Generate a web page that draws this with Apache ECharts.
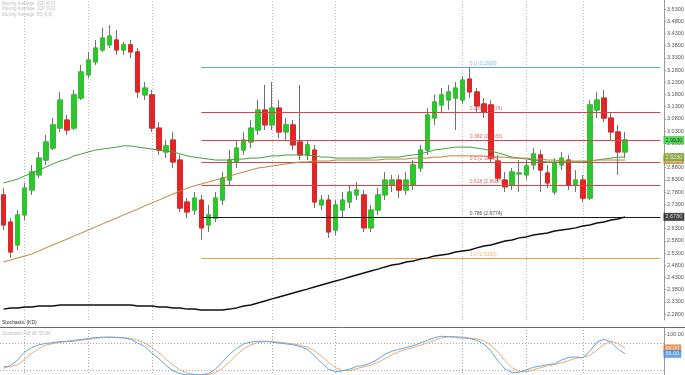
<!DOCTYPE html>
<html><head><meta charset="utf-8">
<script src="https://cdn.jsdelivr.net/npm/echarts@6/dist/echarts.min.js"></script>
<style>html,body{margin:0;padding:0;background:#fff}#c{width:685px;height:375px}</style>
</head><body><div id="c"></div>
<script>
// ---------- data ----------
const categories = Array.from({length: 94}, (_, i) => 'D' + (i + 1));
const opens  = [2.768,2.657,2.563,2.686,2.788,2.850,2.911,2.960,3.042,3.075,3.042,3.165,3.260,3.313,3.362,3.383,3.403,3.362,3.383,3.354,3.178,3.178,3.042,2.944,2.993,2.911,2.739,2.706,2.747,2.645,2.673,2.747,2.829,2.903,2.952,2.985,3.034,3.116,3.055,3.124,3.026,3.055,2.985,2.932,2.952,2.727,2.747,2.624,2.706,2.739,2.768,2.768,2.633,2.706,2.768,2.809,2.829,2.788,2.809,2.878,2.952,3.083,3.137,3.157,3.165,3.157,3.243,3.190,3.141,3.137,2.907,2.829,2.809,2.854,2.850,2.891,2.932,2.858,2.780,2.891,2.911,2.809,2.829,2.755,3.116,3.165,3.083,3.026,2.944];
const closes = [2.645,2.534,2.686,2.796,2.862,2.919,2.985,3.055,3.157,3.034,3.178,3.272,3.321,3.370,3.411,3.419,3.362,3.383,3.354,3.190,3.206,3.042,2.952,2.969,2.903,2.714,2.698,2.755,2.633,2.686,2.755,2.837,2.911,2.960,2.993,3.042,3.116,3.055,3.124,3.026,3.055,2.973,2.932,2.973,2.739,2.747,2.616,2.727,2.747,2.780,2.788,2.633,2.706,2.768,2.829,2.829,2.788,2.829,2.891,2.952,3.096,3.149,3.178,3.190,3.206,3.239,3.190,3.133,3.108,2.919,2.837,2.801,2.862,2.858,2.887,2.936,2.870,2.817,2.899,2.919,2.809,2.829,2.755,3.137,3.157,3.083,3.026,2.944,2.993];
const lows   = [2.624,2.510,2.542,2.665,2.768,2.837,2.891,2.952,3.026,3.014,3.034,3.157,3.247,3.301,3.354,3.370,3.342,3.342,3.329,3.165,3.157,3.026,2.932,2.919,2.878,2.698,2.673,2.686,2.583,2.616,2.657,2.727,2.809,2.878,2.932,2.960,3.014,3.034,3.034,3.001,2.993,2.952,2.911,2.911,2.714,2.706,2.592,2.604,2.673,2.714,2.747,2.616,2.616,2.686,2.747,2.780,2.755,2.768,2.788,2.862,2.932,3.055,3.108,3.116,3.034,3.141,3.165,3.108,3.083,2.903,2.821,2.780,2.788,2.780,2.829,2.870,2.780,2.796,2.768,2.870,2.788,2.780,2.739,2.747,3.083,3.067,2.993,2.850,2.919];
const highs  = [2.796,2.673,2.706,2.817,2.891,2.944,3.014,3.083,3.190,3.096,3.198,3.301,3.354,3.403,3.452,3.464,3.444,3.395,3.403,3.370,3.231,3.198,3.067,2.993,3.026,2.932,2.755,2.780,2.768,2.727,2.780,2.862,2.952,2.993,3.026,3.075,3.157,3.219,3.231,3.157,3.083,3.075,3.219,2.993,2.973,2.768,2.768,2.747,2.780,2.805,2.821,2.788,2.727,2.796,2.862,2.850,2.850,2.862,2.911,2.973,3.124,3.178,3.206,3.219,3.231,3.255,3.292,3.206,3.165,3.157,2.932,2.862,2.878,2.911,2.911,2.960,2.952,2.891,2.919,2.944,2.932,2.870,2.850,3.157,3.190,3.198,3.108,3.055,3.026];
const ma50  = [2.817,2.825,2.833,2.846,2.858,2.870,2.882,2.895,2.907,2.915,2.928,2.936,2.944,2.952,2.956,2.960,2.964,2.969,2.969,2.964,2.960,2.956,2.952,2.948,2.944,2.936,2.928,2.923,2.919,2.915,2.911,2.911,2.911,2.915,2.915,2.919,2.919,2.923,2.928,2.928,2.932,2.932,2.932,2.932,2.928,2.923,2.923,2.919,2.919,2.919,2.919,2.919,2.919,2.923,2.923,2.923,2.923,2.928,2.932,2.936,2.944,2.952,2.956,2.960,2.964,2.964,2.964,2.960,2.956,2.948,2.940,2.932,2.923,2.919,2.915,2.911,2.907,2.903,2.903,2.903,2.903,2.903,2.903,2.907,2.911,2.915,2.919,2.923,2.923];
const ma100 = [2.493,2.501,2.510,2.518,2.526,2.538,2.551,2.563,2.575,2.587,2.600,2.612,2.624,2.637,2.649,2.661,2.673,2.686,2.698,2.710,2.723,2.735,2.747,2.760,2.772,2.784,2.796,2.805,2.813,2.821,2.829,2.837,2.846,2.854,2.862,2.870,2.878,2.882,2.887,2.891,2.895,2.899,2.903,2.903,2.907,2.907,2.907,2.911,2.911,2.911,2.911,2.911,2.911,2.911,2.915,2.915,2.915,2.915,2.919,2.919,2.919,2.923,2.923,2.928,2.928,2.928,2.928,2.928,2.928,2.923,2.923,2.923,2.919,2.919,2.919,2.915,2.915,2.911,2.911,2.907,2.907,2.907,2.907,2.907,2.911,2.911,2.911,2.911,2.911];
const ma200 = [2.300,2.305,2.305,2.309,2.309,2.313,2.313,2.313,2.317,2.317,2.317,2.317,2.317,2.317,2.317,2.317,2.317,2.317,2.317,2.313,2.313,2.313,2.309,2.309,2.305,2.305,2.300,2.300,2.296,2.296,2.296,2.296,2.300,2.305,2.313,2.317,2.325,2.333,2.342,2.350,2.358,2.366,2.374,2.382,2.391,2.399,2.407,2.415,2.423,2.432,2.440,2.448,2.456,2.464,2.473,2.481,2.485,2.493,2.497,2.505,2.510,2.518,2.522,2.526,2.534,2.538,2.542,2.551,2.559,2.563,2.571,2.579,2.583,2.592,2.596,2.604,2.608,2.612,2.620,2.624,2.628,2.633,2.641,2.645,2.653,2.657,2.665,2.669,2.678];
const stochK = [24,30,42,60,70,76,79,81,83,84,86,88,90,92,93,93,92,91,88,80,72,58,45,30,18,12,9,10,9,12,22,38,55,68,78,82,84,84,82,80,78,76,72,66,52,36,22,16,18,22,28,30,36,44,55,62,66,70,74,80,86,92,95,94,93,91,90,86,78,62,40,22,14,15,20,26,29,32,34,42,48,49,47,62,82,88,82,66,56];
const stochD = [28,27,32,44,57,68,75,79,81,83,84,86,88,90,92,93,93,92,90,86,80,70,58,44,31,20,13,10,9,10,14,24,38,54,67,76,81,83,83,82,80,78,75,71,63,51,37,25,19,19,23,27,31,37,45,54,61,66,70,75,80,86,91,94,94,93,91,89,85,75,60,41,25,17,16,20,25,29,32,36,41,46,48,53,64,77,84,79,68];
const priceTicks = [2.28,2.33,2.38,2.43,2.48,2.53,2.58,2.63,2.68,2.73,2.78,2.83,2.88,2.93,2.98,3.03,3.08,3.13,3.18,3.23,3.28,3.33,3.38,3.43,3.48,3.53];
const stochTicks = [100];
const fibRatios = ['0.0','0.236','0.382','0.5','0.618','0.786','1.0'];
const fibLevels = [3.2920,3.1074,2.9933,2.9010,2.8087,2.6774,2.5100];
const fibStartIdx = 28, fibEndIdx = 93, fibLabelIdx = 66;
const vGridIdx = [3,12,21,38,47,65,74,82];
const stochLevels = [80,20];

// ---------- styles ----------
const fibColors = ['#5aa8d6','#d9434a','#d9434a','#d9434a','#d9434a','#1a1a1a','#f0a040'];
const UP = '#2ec62e', DOWN = '#e02626', WICK = '#707070';

const chart = echarts.init(document.getElementById('c'), null, {renderer: 'canvas'});
const last = closes.length - 1;
const endIdx = categories.length - 1;

const wickData = opens.map((o, i) => [o, closes[i], lows[i], highs[i]]);
const bodyData = opens.map((o, i) => [o, closes[i], Math.min(o, closes[i]), Math.max(o, closes[i])]);

const axisLabelStyle = {fontSize: 5.5, color: '#555', fontFamily: 'Liberation Sans, Arial', margin: 3};
const tagLabel = (bg, fg) => ({show: true, position: 'right', distance: 3, fontSize: 5.5, fontFamily: 'Liberation Sans, Arial',
  color: fg, backgroundColor: bg, padding: [1, 2, 1, 2], formatter: p => p.value[1].toFixed(4)});

const option = {
  animation: false,
  backgroundColor: '#ffffff',
  grid: [
    {left: 0, right: 21, top: 0, height: 320, outerBoundsMode: 'none'},
    {left: 0, right: 21, top: 328, height: 51, outerBoundsMode: 'none'}
  ],
  xAxis: [
    {type: 'category', data: categories, gridIndex: 0, boundaryGap: true, axisLine: {show: false}, axisTick: {show: false}, axisLabel: {show: false}, splitLine: {show: false}},
    {type: 'category', data: categories, gridIndex: 1, boundaryGap: true, axisLine: {show: false}, axisTick: {show: false}, axisLabel: {show: false}, splitLine: {show: false}}
  ],
  yAxis: [
    {type: 'value', gridIndex: 0, position: 'right', min: 2.2554, max: 3.5669, scale: true,
     axisLine: {show: true, lineStyle: {color: '#9a9a9a', width: 1}},
     axisTick: {show: true, length: 2, lineStyle: {color: '#9a9a9a'}, customValues: priceTicks},
     axisLabel: Object.assign({customValues: priceTicks, formatter: v => v.toFixed(4)}, axisLabelStyle),
     splitLine: {show: false}},
    {type: 'value', gridIndex: 1, position: 'right', min: 0, max: 113.33,
     axisLine: {show: true, lineStyle: {color: '#9a9a9a', width: 1}},
     axisTick: {show: true, length: 2, lineStyle: {color: '#9a9a9a'}, customValues: stochTicks},
     axisLabel: Object.assign({customValues: stochTicks, formatter: v => v.toFixed(2)}, axisLabelStyle),
     splitLine: {show: false}}
  ],
  series: [
    {name: 'grid', type: 'line', data: [], z: 0, silent: true,
     markLine: {z: 0, silent: true, symbol: 'none', label: {show: false},
       lineStyle: {color: '#b8b8b8', type: [1, 2], width: 1},
       data: vGridIdx.map(i => ({xAxis: i}))}},
    {name: 'wicks', type: 'candlestick', xAxisIndex: 0, yAxisIndex: 0, barWidth: 5, z: 2, data: wickData,
     itemStyle: {color: WICK, color0: WICK, borderColor: WICK, borderColor0: WICK, borderWidth: 1}},
    {name: 'bodies', type: 'candlestick', xAxisIndex: 0, yAxisIndex: 0, barWidth: 5, z: 3, data: bodyData,
     itemStyle: {color: UP, color0: DOWN, borderColor: UP, borderColor0: DOWN, borderWidth: 1}},
    {name: 'MA50', type: 'line', data: ma50, showSymbol: false, z: 5, lineStyle: {color: '#3f9f3f', width: 1}},
    {name: 'MA100', type: 'line', data: ma100, showSymbol: false, z: 5, lineStyle: {color: '#c2813a', width: 1}},
    {name: 'MA200', type: 'line', data: ma200, showSymbol: false, z: 5, lineStyle: {color: '#111111', width: 1.5}},
    {name: 'fib', type: 'scatter', symbolSize: 0, z: 6, silent: true,
     data: fibLevels.map((v, k) => ({value: [fibLabelIdx, v], label: {color: fibColors[k]}})),
     label: {show: true, position: [0, -1], align: 'left', verticalAlign: 'bottom', fontSize: 5, fontFamily: 'Liberation Sans, Arial',
       formatter: p => fibRatios[p.dataIndex] + ' (' + fibLevels[p.dataIndex].toFixed(4) + ')'},
     markLine: {z: 4, silent: true, symbol: 'none', label: {show: false},
       data: fibLevels.map((v, k) => [{coord: [fibStartIdx, v], lineStyle: {color: fibColors[k], width: 1, type: 'solid'}},
                                      {coord: [fibEndIdx, v]}])}},
    {name: 'tags', type: 'scatter', symbolSize: 0, z: 10, silent: true,
     data: [
       {value: [endIdx, ma200[last]], label: tagLabel('#1b1b1b', '#ffffff')},
       {value: [endIdx, ma100[last]], label: tagLabel('#c8832e', '#ffffff')},
       {value: [endIdx, ma50[last]], label: tagLabel('#78a83a', '#ffffff')},
       {value: [endIdx, closes[last]], label: tagLabel('#35d035', '#1a1a1a')}
     ]},
    {name: 'stochGrid', type: 'line', xAxisIndex: 1, yAxisIndex: 1, data: [], z: 0, silent: true,
     markLine: {z: 0, silent: true, symbol: 'none', label: {show: false},
       lineStyle: {color: '#a8a8a8', type: [1, 2], width: 1},
       data: stochLevels.map(v => ({yAxis: v})).concat(vGridIdx.map(i => ({xAxis: i})))}},
    {name: '%K', type: 'line', xAxisIndex: 1, yAxisIndex: 1, data: stochK, showSymbol: false, z: 5,
     lineStyle: {color: '#5fa6e0', width: 1}},
    {name: '%D', type: 'line', xAxisIndex: 1, yAxisIndex: 1, data: stochD, showSymbol: false, z: 4,
     lineStyle: {color: '#f0a870', width: 1}},
    {name: 'stochTags', type: 'scatter', xAxisIndex: 1, yAxisIndex: 1, symbolSize: 0, z: 10, silent: true,
     data: [
       {value: [endIdx, stochD[last]], label: Object.assign(tagLabel('#e8792e', '#ffffff'), {formatter: p => p.value[1].toFixed(2)})},
       {value: [endIdx, stochK[last]], label: Object.assign(tagLabel('#3f8fd8', '#ffffff'), {formatter: p => p.value[1].toFixed(2)})}
     ]}
  ],
  graphic: [
    {type: 'line', shape: {x1: 0, y1: 327.5, x2: 685, y2: 327.5}, style: {stroke: '#6a6a6a', lineWidth: 1}, silent: true, z: 20},
    {type: 'text', left: 2, top: 1, style: {text: 'Moving Average: 200 (0,0)', fontSize: 4.5, fill: '#bdbdbd', fontFamily: 'Liberation Sans, Arial'}},
    {type: 'text', left: 2, top: 6.5, style: {text: 'Moving Average: 100 (0,0)', fontSize: 4.5, fill: '#bdbdbd', fontFamily: 'Liberation Sans, Arial'}},
    {type: 'text', left: 2, top: 12, style: {text: 'Moving Average: 50 (0,0)', fontSize: 4.5, fill: '#bdbdbd', fontFamily: 'Liberation Sans, Arial'}},
    {type: 'text', left: 2, top: 320.5, style: {text: 'Stochastic (KD)', fontSize: 5, fill: '#333', fontFamily: 'Liberation Sans, Arial'}},
    {type: 'text', left: 2, top: 331, style: {text: 'Stochastic  66.98  55.84', fontSize: 4.5, fill: '#bdbdbd', fontFamily: 'Liberation Sans, Arial'}}
  ]
};
chart.setOption(option);
</script>
</body></html>
